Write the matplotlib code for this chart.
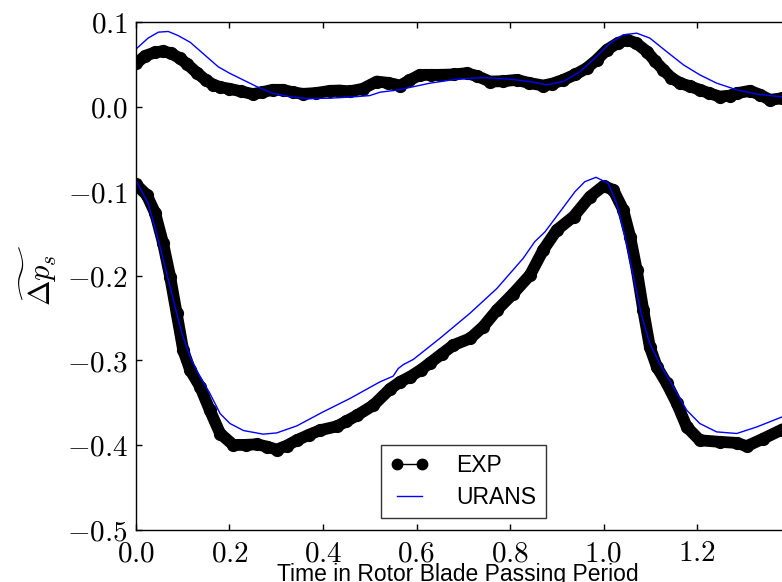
import matplotlib
matplotlib.use("Agg")
import matplotlib.pyplot as plt
from matplotlib.ticker import FuncFormatter

plt.rcParams['mathtext.fontset'] = 'cm'
plt.rcParams['font.family'] = ['Liberation Sans', 'DejaVu Sans']

# EXP - gorna krzywa
exp_top_t = [0.0, 0.02, 0.04, 0.058, 0.075, 0.094, 0.11, 0.13, 0.15, 0.165, 0.18, 0.20, 0.225, 0.25,
             0.27, 0.292, 0.314, 0.335, 0.357, 0.385, 0.415, 0.435, 0.457, 0.485, 0.515, 0.54, 0.565,
             0.585, 0.607, 0.63, 0.65, 0.68, 0.707, 0.73, 0.757, 0.785, 0.814, 0.84, 0.871, 0.89, 0.914,
             0.94, 0.964, 0.985, 1.007, 1.03, 1.05, 1.07, 1.093, 1.11, 1.128, 1.145, 1.164, 1.185, 1.206,
             1.225, 1.249, 1.27, 1.285, 1.313, 1.335, 1.356, 1.382, 1.40]
exp_top = [0.051, 0.060, 0.064, 0.0655, 0.063, 0.057, 0.050, 0.040, 0.031, 0.026, 0.023, 0.021, 0.018, 0.0147,
           0.017, 0.0198, 0.0198, 0.017, 0.015, 0.016, 0.0186, 0.019, 0.018, 0.021, 0.0296, 0.028, 0.0249,
           0.031, 0.0375, 0.0375, 0.0375, 0.038, 0.0395, 0.036, 0.0296, 0.030, 0.0316, 0.028, 0.0249, 0.027, 0.0316,
           0.038, 0.0454, 0.055, 0.067, 0.075, 0.079, 0.075, 0.065, 0.054, 0.0434, 0.034, 0.0277, 0.024, 0.0198,
           0.016, 0.0118, 0.013, 0.0158, 0.0186, 0.014, 0.0079, 0.0099, 0.010]

# URANS - gorna krzywa
urans_top_t = [0.0, 0.026, 0.048, 0.069, 0.09, 0.116, 0.147, 0.176, 0.20, 0.229, 0.258, 0.292, 0.329, 0.365,
               0.415, 0.465, 0.50, 0.522, 0.557, 0.572, 0.629, 0.686, 0.743, 0.80, 0.843, 0.878, 0.914, 0.95,
               0.985, 1.014, 1.042, 1.071, 1.099, 1.135, 1.171, 1.206, 1.242, 1.285, 1.328, 1.382, 1.40]
urans_top = [0.068, 0.081, 0.088, 0.0888, 0.084, 0.076, 0.061, 0.047, 0.0395, 0.0316, 0.0237, 0.0158, 0.0118, 0.0095,
             0.0099, 0.0115, 0.013, 0.017, 0.0194, 0.021, 0.0277, 0.0324, 0.0343, 0.0324, 0.0296, 0.0257, 0.0296, 0.0414,
             0.059, 0.075, 0.0848, 0.0868, 0.081, 0.065, 0.0493, 0.0375, 0.0277, 0.0198, 0.0147, 0.0115, 0.0105]

# EXP - dolna krzywa
exp_bot_t = [0.0, 0.023, 0.041, 0.058, 0.073, 0.087, 0.101, 0.116, 0.137, 0.158, 0.18, 0.208, 0.235, 0.258,
             0.28, 0.301, 0.322, 0.344, 0.37, 0.394, 0.43, 0.45, 0.473, 0.508, 0.543, 0.565, 0.586, 0.61,
             0.629, 0.655, 0.679, 0.715, 0.743, 0.772, 0.807, 0.843, 0.871, 0.90, 0.936, 0.971, 1.0, 1.021,
             1.042, 1.057, 1.071, 1.085, 1.099, 1.114, 1.135, 1.157, 1.178, 1.206, 1.249, 1.285, 1.306, 1.342,
             1.382, 1.40]
exp_bot = [-0.092, -0.1045, -0.126, -0.1617, -0.201, -0.2445, -0.288, -0.3116, -0.331, -0.359, -0.3865, -0.400, -0.400, -0.3992,
           -0.402, -0.4055, -0.401, -0.3945, -0.388, -0.3826, -0.378, -0.372, -0.365, -0.353, -0.334, -0.3254, -0.3195, -0.311,
           -0.303, -0.292, -0.282, -0.274, -0.260, -0.2406, -0.221, -0.199, -0.1696, -0.146, -0.130, -0.1065, -0.0938, -0.0986,
           -0.122, -0.154, -0.193, -0.2406, -0.284, -0.3077, -0.327, -0.351, -0.3787, -0.3945, -0.3964, -0.3976, -0.4015, -0.3925,
           -0.3818, -0.378]

# URANS - dolna krzywa
urans_bot_t = [0.0, 0.026, 0.044, 0.062, 0.08, 0.098, 0.116, 0.137, 0.158, 0.18, 0.201, 0.23, 0.272, 0.301,
               0.344, 0.40, 0.458, 0.522, 0.55, 0.561, 0.572, 0.593, 0.65, 0.714, 0.772, 0.828, 0.853, 0.875,
               0.907, 0.939, 0.96, 0.984, 1.01, 1.028, 1.046, 1.064, 1.082, 1.099, 1.12, 1.149, 1.178, 1.206,
               1.242, 1.285, 1.328, 1.382, 1.40]
urans_bot = [-0.087, -0.1144, -0.150, -0.189, -0.2288, -0.268, -0.296, -0.3195, -0.339, -0.363, -0.3747, -0.383, -0.3873, -0.3858,
             -0.3775, -0.361, -0.345, -0.3254, -0.3187, -0.3096, -0.305, -0.299, -0.274, -0.2445, -0.215, -0.1795, -0.1597, -0.148,
             -0.1243, -0.1006, -0.0888, -0.0836, -0.0907, -0.1144, -0.154, -0.201, -0.2485, -0.280, -0.3037, -0.331, -0.359, -0.3747,
             -0.3846, -0.3865, -0.3787, -0.3669, -0.362]

xticks = [0.0, 0.2, 0.4, 0.6, 0.8, 1.0, 1.2]
yticks = [-0.5, -0.4, -0.3, -0.2, -0.1, 0.0, 0.1]

fig = plt.figure(figsize=(7.82, 5.82), dpi=100)
# os wychodzi poza prawa krawedz rysunku (jak w oryginale)
ax = fig.add_axes([0.1739, 0.0902, 0.837, 0.872])

for t, v in [(exp_top_t, exp_top), (exp_bot_t, exp_bot)]:
    ax.plot(t, v, color="k", lw=8.5, solid_joinstyle="round", solid_capstyle="round")
    ax.plot(t, v, "ko", ms=8.5)
ax.plot(urans_top_t, urans_top, color="#0000ff", lw=1.0)
ax.plot(urans_bot_t, urans_bot, color="#0000ff", lw=1.0)

# uchwyty do legendy
ax.plot([], [], "ko-", ms=7.5, lw=1.0, label="EXP")
ax.plot([], [], color="#0000ff", lw=1.0, label="URANS")

ax.set_xlim(0, 1.4)
ax.set_ylim(-0.5, 0.1)
ax.set_xticks(xticks)
ax.set_yticks(yticks)
fmt = FuncFormatter(lambda v, p: "$%.1f$" % v)
ax.xaxis.set_major_formatter(fmt)
ax.yaxis.set_major_formatter(fmt)
ax.tick_params(direction="in", top=True, right=True, length=4, width=1, labelsize=21)
ax.tick_params(axis="x", pad=7)
ax.tick_params(axis="y", pad=6)
for s in ax.spines.values():
    s.set_linewidth(1.0)

# podpis osi x jest przyciety dolna krawedzia - tak jak w oryginale
ax.set_xlabel("Time in Rotor Blade Passing Period", fontsize=16.5)
ax.xaxis.set_label_coords(0.492, -0.066)
ax.set_ylabel(r"$\widetilde{\Delta p_s}$", fontsize=22)
ax.yaxis.set_label_coords(-0.118, 0.5)

leg = ax.legend(loc="lower center", numpoints=2, fontsize=16.5, fancybox=False,
                handlelength=1.7, handletextpad=1.2, labelspacing=0.4, borderaxespad=0.5)
leg.get_frame().set_edgecolor("k")
leg.get_frame().set_linewidth(1.0)

fig.savefig("out.png", dpi=100)
